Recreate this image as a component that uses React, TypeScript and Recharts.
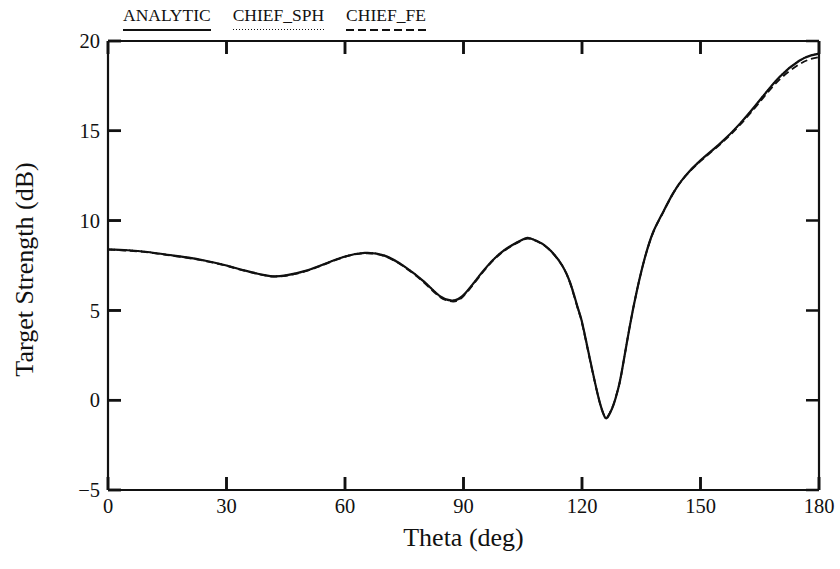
import React from 'react';
import { LineChart, Line, XAxis, YAxis, Legend, CartesianGrid } from 'recharts';

const THETA = [0, 5, 10, 15, 20, 25, 30, 35, 40, 42, 45, 50, 55, 60, 65, 70, 75, 80, 84, 87, 90, 95, 100, 105, 107, 110, 113, 115, 117, 119, 120, 122, 124, 125, 126, 127, 128, 129, 130, 132, 134, 136, 138, 140, 143, 146, 150, 155, 160, 165, 170, 175, 178, 180];
const ANALYTIC = [8.4, 8.35, 8.25, 8.1, 7.95, 7.75, 7.5, 7.2, 6.95, 6.9, 6.95, 7.2, 7.6, 8.0, 8.2, 8.05, 7.45, 6.6, 5.8, 5.55, 5.85, 7.2, 8.3, 8.95, 9.0, 8.7, 8.1, 7.5, 6.55, 5.1, 4.35, 2.3, 0.3, -0.5, -1.0, -0.75, -0.25, 0.5, 1.5, 4.0, 6.2, 8.0, 9.35, 10.25, 11.5, 12.45, 13.35, 14.3, 15.4, 16.7, 18.0, 18.9, 19.2, 19.3];
const CHIEF_SPH = [8.4, 8.35, 8.25, 8.1, 7.95, 7.75, 7.5, 7.2, 6.95, 6.9, 6.95, 7.2, 7.6, 8.0, 8.2, 8.05, 7.45, 6.6, 5.8, 5.55, 5.85, 7.2, 8.3, 8.95, 9.0, 8.7, 8.1, 7.5, 6.55, 5.1, 4.35, 2.3, 0.3, -0.5, -0.98, -0.75, -0.25, 0.5, 1.5, 4.0, 6.2, 8.0, 9.35, 10.25, 11.5, 12.45, 13.35, 14.3, 15.4, 16.7, 18.0, 18.9, 19.2, 19.3];
const CHIEF_FE = [8.38, 8.33, 8.23, 8.08, 7.93, 7.73, 7.48, 7.18, 6.93, 6.88, 6.93, 7.18, 7.58, 7.98, 8.18, 8.02, 7.42, 6.55, 5.75, 5.5, 5.8, 7.15, 8.26, 8.92, 8.98, 8.68, 8.08, 7.48, 6.5, 5.05, 4.3, 2.25, 0.3, -0.5, -0.95, -0.72, -0.22, 0.52, 1.5, 4.0, 6.2, 8.0, 9.33, 10.23, 11.48, 12.42, 13.31, 14.25, 15.33, 16.6, 17.85, 18.7, 19.0, 19.1];

const X_TICKS = [0, 30, 60, 90, 120, 150, 180];
const Y_TICKS = [-5, 0, 5, 10, 15, 20];

const SERIES = [
  { key: 'analytic', name: 'ANALYTIC', dash: undefined as string | undefined, width: 2.2 },
  { key: 'sph', name: 'CHIEF_SPH', dash: '1 2', width: 1.6 },
  { key: 'fe', name: 'CHIEF_FE', dash: '7 4', width: 1.8 },
];

const data = THETA.map((t, i) => ({ theta: t, analytic: ANALYTIC[i], sph: CHIEF_SPH[i], fe: CHIEF_FE[i] }));

const FONT = '"Liberation Serif", "Times New Roman", serif';
const INK = '#111';
const TICK_LEN = 13;
const TICK_W = 2.5;
const TICK_FONT = 20.5;

const CHART_W = 840;
const CHART_H = 569;
const MARGIN = { top: 40, right: 20, bottom: 78, left: 107 };
const AXIS_W = 1;
const PLOT_W = CHART_W - MARGIN.left - MARGIN.right - 2 * AXIS_W;
const PLOT_H = CHART_H - MARGIN.top - MARGIN.bottom - 2 * AXIS_W;

const fmt = (v: number) => (v < 0 ? `\u2212${Math.abs(v)}` : `${v}`);

const LeftTick = (p: any) => (
  <g>
    <rect x={p.x} y={p.y - TICK_W / 2} width={TICK_LEN} height={TICK_W} fill={INK} />
    <text x={p.x - 8} y={p.y} dy="0.35em" textAnchor="end" fontFamily={FONT} fontSize={TICK_FONT} fill={INK}>
      {fmt(p.payload.value)}
    </text>
  </g>
);
const RightTick = (p: any) => (
  <g>
    <rect x={p.x - TICK_LEN} y={p.y - TICK_W / 2} width={TICK_LEN} height={TICK_W} fill={INK} />
  </g>
);
const BottomTick = (p: any) => (
  <g>
    <rect x={p.x - TICK_W / 2} y={p.y - TICK_LEN} width={TICK_W} height={TICK_LEN} fill={INK} />
    <text x={p.x} y={p.y + 23} textAnchor="middle" fontFamily={FONT} fontSize={TICK_FONT} fill={INK}>
      {fmt(p.payload.value)}
    </text>
  </g>
);
const TopTick = (p: any) => (
  <g>
    <rect x={p.x - TICK_W / 2} y={p.y} width={TICK_W} height={TICK_LEN} fill={INK} />
  </g>
);

const XTitle = (p: any) => {
  const vb = p.viewBox;
  return (
    <text x={vb.x + vb.width / 2} y={vb.y + 56} textAnchor="middle" fontFamily={FONT} fontSize={26} fill={INK}>
      Theta (deg)
    </text>
  );
};
const YTitle = (p: any) => {
  const vb = p.viewBox;
  const cx = vb.x - 83;
  const cy = vb.y + vb.height / 2 + 4;
  return (
    <text x={cx} y={cy} transform={`rotate(-90 ${cx} ${cy})`} textAnchor="middle" dy="0.35em" fontFamily={FONT} fontSize={26} fill={INK}>
      Target Strength (dB)
    </text>
  );
};

const swatch = (key: string) => {
  if (key === 'sph') return `repeating-linear-gradient(to right, ${INK} 0 1px, transparent 1px 3px)`;
  if (key === 'fe') return `repeating-linear-gradient(to right, ${INK} 0 8px, transparent 8px 12px)`;
  return INK;
};

const LegendContent = () => (
  <div style={{ display: 'inline-flex', gap: 22, fontFamily: FONT, fontSize: 17.5, color: INK }}>
    {SERIES.map((s) => (
      <div key={s.key} style={{ display: 'flex', flexDirection: 'column' }}>
        <span style={{ lineHeight: '20px', whiteSpace: 'nowrap' }}>{s.name}</span>
        <div style={{ height: s.key === 'sph' ? 1.3 : 1.6, marginTop: 4, background: swatch(s.key) }} />
      </div>
    ))}
  </div>
);

const axisLine = { stroke: INK, strokeWidth: 2.2 };

export default function App() {
  return (
    <div style={{ position: 'absolute', left: 0, top: 0, background: '#fff' }}>
      <LineChart width={CHART_W} height={CHART_H} data={data} margin={MARGIN}>
        <CartesianGrid
          vertical={false}
          stroke={INK}
          strokeWidth={TICK_W}
          strokeDasharray={`${TICK_LEN} ${PLOT_W - 2 * TICK_LEN} ${TICK_LEN} 0`}
        />
        <CartesianGrid
          horizontal={false}
          stroke={INK}
          strokeWidth={TICK_W}
          strokeDasharray={`${TICK_LEN} ${PLOT_H - 2 * TICK_LEN} ${TICK_LEN} 0`}
        />
        <XAxis
          dataKey="theta"
          type="number"
          domain={[0, 180]}
          ticks={X_TICKS}
          height={AXIS_W}
          tickSize={0}
          tickMargin={0}
          tickLine={false}
          axisLine={axisLine}
          tick={<BottomTick />}
          label={<XTitle />}
        />
        <XAxis
          xAxisId="top"
          orientation="top"
          dataKey="theta"
          type="number"
          domain={[0, 180]}
          ticks={X_TICKS}
          height={AXIS_W}
          tickSize={0}
          tickMargin={0}
          tickLine={false}
          axisLine={axisLine}
          tick={<TopTick />}
        />
        <YAxis
          type="number"
          domain={[-5, 20]}
          ticks={Y_TICKS}
          width={AXIS_W}
          tickSize={0}
          tickMargin={0}
          tickLine={false}
          axisLine={axisLine}
          tick={<LeftTick />}
          label={<YTitle />}
        />
        <YAxis
          yAxisId="right"
          orientation="right"
          type="number"
          domain={[-5, 20]}
          ticks={Y_TICKS}
          width={AXIS_W}
          tickSize={0}
          tickMargin={0}
          tickLine={false}
          axisLine={axisLine}
          tick={<RightTick />}
        />
        <Legend
          layout="horizontal"
          verticalAlign="middle"
          align="center"
          wrapperStyle={{ top: 5, left: 123, width: 'auto' }}
          content={<LegendContent />}
        />
        {SERIES.map((s) => (
          <Line
            key={s.key}
            dataKey={s.key}
            name={s.name}
            type="natural"
            stroke={INK}
            strokeWidth={s.width}
            strokeDasharray={s.dash}
            dot={false}
            activeDot={false}
            isAnimationActive={false}
          />
        ))}
      </LineChart>
    </div>
  );
}
